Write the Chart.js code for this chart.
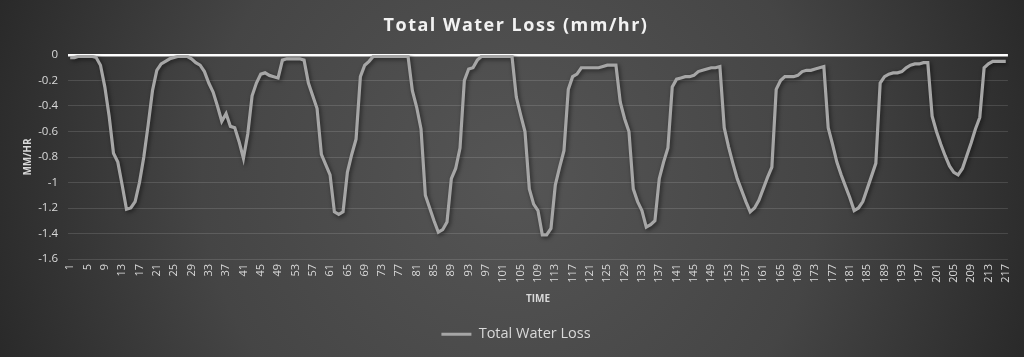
<!DOCTYPE html>
<html>
<head>
<meta charset="utf-8">
<script src="https://cdn.jsdelivr.net/npm/chart.js@4/dist/chart.umd.min.js"></script>
<style>
  html, body { margin: 0; padding: 0; background: #2a2a2a; }
  #wrap { width: 1024px; height: 357px; position: relative; }
</style>
</head>
<body>
<div id="wrap"><canvas id="c" width="1024" height="357"></canvas></div>
<script>
// ---- data ----
const chartTitle = 'Total Water Loss (mm/hr)';
const seriesName = 'Total Water Loss';
const xTitle = 'TIME';
const yTitle = 'MM/HR';
const timeSteps = Array.from({ length: 217 }, (_, i) => String(i + 1));
const waterLoss = [
  -0.02,-0.02,-0.01,-0.01,-0.01,-0.01,-0.02,-0.08,-0.25,-0.48,
  -0.77,-0.84,-1.02,-1.21,-1.20,-1.15,-1.00,-0.80,-0.55,-0.28,
  -0.12,-0.07,-0.05,-0.03,-0.02,-0.01,-0.01,-0.01,-0.03,-0.06,
  -0.08,-0.13,-0.22,-0.29,-0.40,-0.52,-0.46,-0.56,-0.57,-0.68,
  -0.81,-0.62,-0.32,-0.22,-0.15,-0.14,-0.16,-0.17,-0.18,-0.04,
  -0.03,-0.03,-0.03,-0.03,-0.04,-0.22,-0.32,-0.42,-0.78,-0.86,
  -0.94,-1.23,-1.25,-1.23,-0.92,-0.78,-0.66,-0.17,-0.08,-0.05,
  -0.01,-0.01,-0.01,-0.01,-0.01,-0.01,-0.01,-0.01,-0.01,-0.28,
  -0.41,-0.58,-1.10,-1.20,-1.30,-1.39,-1.37,-1.31,-0.97,-0.89,
  -0.73,-0.20,-0.11,-0.10,-0.04,-0.01,-0.01,-0.01,-0.01,-0.01,
  -0.01,-0.01,-0.01,-0.33,-0.47,-0.60,-1.05,-1.17,-1.22,-1.41,
  -1.41,-1.36,-1.02,-0.88,-0.75,-0.27,-0.17,-0.15,-0.10,-0.10,
  -0.10,-0.10,-0.10,-0.09,-0.08,-0.08,-0.08,-0.37,-0.50,-0.60,
  -1.05,-1.15,-1.22,-1.35,-1.33,-1.30,-0.97,-0.84,-0.73,-0.25,
  -0.19,-0.18,-0.17,-0.17,-0.16,-0.13,-0.12,-0.11,-0.10,-0.10,
  -0.09,-0.57,-0.72,-0.85,-0.97,-1.06,-1.15,-1.23,-1.20,-1.14,
  -1.05,-0.96,-0.88,-0.27,-0.20,-0.17,-0.17,-0.17,-0.16,-0.13,
  -0.12,-0.12,-0.11,-0.10,-0.09,-0.57,-0.70,-0.84,-0.94,-1.03,
  -1.12,-1.22,-1.20,-1.15,-1.05,-0.95,-0.85,-0.22,-0.17,-0.15,
  -0.14,-0.14,-0.13,-0.10,-0.08,-0.07,-0.07,-0.06,-0.06,-0.48,
  -0.60,-0.70,-0.79,-0.87,-0.92,-0.94,-0.89,-0.79,-0.69,-0.58,
  -0.49,-0.10,-0.07,-0.05,-0.05,-0.05,-0.05
];
const yMin = -1.6, yMax = 0, yStep = 0.2;
const xLabelEvery = 4;

// ---- plugins ----
const bgPlugin = {
  id: 'bg',
  beforeDraw(chart) {
    const { ctx, width, height } = chart;
    ctx.save();
    const g = ctx.createRadialGradient(width * 0.5, height * 0.5, 0, width * 0.5, height * 0.5, width * 0.55);
    g.addColorStop(0, '#555555');
    g.addColorStop(0.55, '#454545');
    g.addColorStop(1, '#272727');
    ctx.fillStyle = g;
    ctx.fillRect(0, 0, width, height);
    ctx.restore();
  }
};
const shadowPlugin = {
  id: 'lineShadow',
  beforeDatasetDraw(chart) {
    const ctx = chart.ctx;
    ctx.save();
    ctx.shadowColor = 'rgba(0,0,0,0.55)';
    ctx.shadowBlur = 4;
    ctx.shadowOffsetX = 1.5;
    ctx.shadowOffsetY = 1.5;
  },
  afterDatasetDraw(chart) {
    chart.ctx.restore();
  }
};

const tickColor = '#d9d9d9';
const baseFont = "'Open Sans', 'Noto Sans', sans-serif";

const chart = new Chart(document.getElementById('c'), {
  type: 'line',
  data: {
    labels: timeSteps,
    datasets: [{
      label: seriesName,
      data: waterLoss,
      borderColor: '#a6a6a6',
      backgroundColor: '#a6a6a6',
      borderWidth: 3.2,
      pointRadius: 0,
      tension: 0,
      fill: false
    }]
  },
  options: {
    responsive: false,
    animation: false,
    devicePixelRatio: 1,
    layout: { padding: { left: 22, right: 14, top: 6, bottom: 5.5 } },
    plugins: {
      title: {
        display: true,
        text: chartTitle,
        color: '#f2f2f2',
        font: { family: baseFont, size: 18, weight: 'bold' },
        padding: { top: 8.7, bottom: 18.7 }
      },
      legend: {
        display: true,
        position: 'bottom',
        labels: {
          color: tickColor,
          font: { family: baseFont, size: 14.5 },
          usePointStyle: true,
          pointStyle: 'line',
          pointStyleWidth: 30,
          boxHeight: 14,
          padding: 10
        }
      },
      tooltip: { enabled: false }
    },
    scales: {
      x: {
        offset: true,
        grid: { display: false, drawTicks: false },
        border: { display: false },
        afterFit: s => { s.height = 58; },
        ticks: {
          color: tickColor,
          font: { family: baseFont, size: 11 },
          autoSkip: false,
          maxRotation: 90,
          minRotation: 90,
          padding: 5,
          callback: function (v, i) {
            return i % xLabelEvery === 0 ? timeSteps[i] : '';
          }
        },
        title: {
          display: true,
          text: xTitle,
          color: tickColor,
          font: { family: baseFont, size: 10, weight: 'bold' },
          padding: { top: 12, bottom: 12 }
        }
      },
      y: {
        min: yMin,
        max: yMax,
        afterFit: s => { s.width = 46; },
        grid: {
          drawTicks: false,
          color: ctx => ctx.tick && ctx.tick.value === 0 ? '#ffffff' : 'rgba(255,255,255,0.13)',
          lineWidth: ctx => ctx.tick && ctx.tick.value === 0 ? 2.5 : 1
        },
        border: { display: false },
        ticks: {
          stepSize: yStep,
          color: tickColor,
          font: { family: baseFont, size: 11.5 },
          padding: 10,
          callback: v => String(Number(v.toFixed(1)))
        },
        title: {
          display: true,
          text: yTitle,
          color: tickColor,
          font: { family: baseFont, size: 10, weight: 'bold' },
          padding: { top: 0, bottom: 0 }
        }
      }
    }
  },
  plugins: [bgPlugin, shadowPlugin]
});

// slightly wider letter spacing for the title, as in the original
if (chart.titleBlock) {
  const origDraw = chart.titleBlock.draw.bind(chart.titleBlock);
  chart.titleBlock.draw = function () {
    const ctx = chart.ctx;
    const prev = ctx.letterSpacing;
    try { ctx.letterSpacing = '1.5px'; } catch (e) {}
    origDraw();
    try { ctx.letterSpacing = prev || '0px'; } catch (e) {}
  };
  chart.draw();
}
</script>
</body>
</html>
